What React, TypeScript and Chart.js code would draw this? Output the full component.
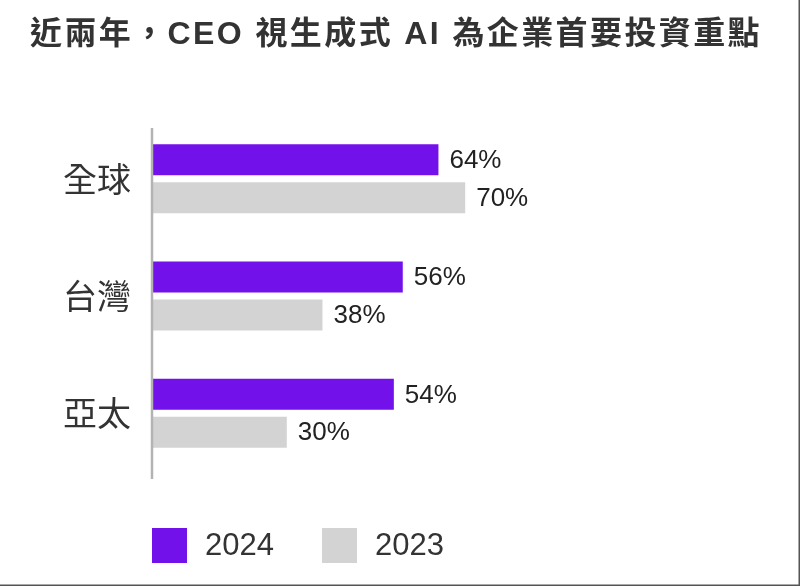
import React, { useEffect, useRef } from "react";
import { Chart, registerables } from "chart.js";

Chart.register(...registerables);

const titleText = "近兩年，CEO 視生成式 AI 為企業首要投資重點";
const categories = ["全球", "台灣", "亞太"];
const seriesLabels = ["2024", "2023"];
const values2024 = [64, 56, 54];
const values2023 = [70, 38, 30];
const seriesColors = ["#7311EB", "#D3D3D3"];
const axisMax = 100;

const LATIN = '"Liberation Sans", Arial, "Noto Sans CJK TC", sans-serif';
const CJK = '"Noto Sans CJK TC", "Noto Sans CJK SC", sans-serif';

const decorPlugin = {
  id: "decor",
  afterDraw(chart: any) {
    const ctx = chart.ctx as CanvasRenderingContext2D;
    const area = chart.chartArea;
    ctx.save();
    // title
    ctx.fillStyle = "#333333";
    ctx.font = `bold 32px ${LATIN}`;
    (ctx as any).letterSpacing = "2.4px";
    ctx.textAlign = "left";
    ctx.textBaseline = "alphabetic";
    ctx.fillText(titleText, 30, 44);
    (ctx as any).letterSpacing = "0px";

    // y axis line
    ctx.strokeStyle = "#b3b3b3";
    ctx.lineWidth = 2.5;
    ctx.beginPath();
    ctx.moveTo(area.left - 1, area.top + 8);
    ctx.lineTo(area.left - 1, area.bottom + 7);
    ctx.stroke();

    // value labels
    ctx.font = `26px ${LATIN}`;
    ctx.fillStyle = "#222222";
    ctx.textBaseline = "middle";
    chart.data.datasets.forEach((ds: any, di: number) => {
      const meta = chart.getDatasetMeta(di);
      meta.data.forEach((el: any, i: number) => {
        ctx.fillText(`${ds.data[i]}%`, el.x + 11, el.y + 1);
      });
    });

    // legend
    const legendX = [152, 322];
    chart.data.datasets.forEach((ds: any, di: number) => {
      const x = legendX[di];
      ctx.fillStyle = ds.backgroundColor;
      ctx.fillRect(x, 528, 35, 35);
      ctx.fillStyle = "#333333";
      ctx.font = `31px ${LATIN}`;
      ctx.textBaseline = "middle";
      ctx.fillText(ds.label, x + 53, 546);
    });

    // frame on right/bottom
    ctx.strokeStyle = "#555555";
    ctx.lineWidth = 1.5;
    ctx.beginPath();
    ctx.moveTo(799.25, 0);
    ctx.lineTo(799.25, 585.25);
    ctx.lineTo(0, 585.25);
    ctx.stroke();
    ctx.restore();
  },
};

export default function App() {
  const ref = useRef<HTMLCanvasElement | null>(null);
  useEffect(() => {
    document.body.style.margin = "0";
    const canvas = ref.current;
    if (!canvas) return;
    const chart = new Chart(canvas, {
      type: "bar",
      data: {
        labels: categories,
        datasets: [
          {
            label: seriesLabels[0],
            data: values2024,
            backgroundColor: seriesColors[0],
            categoryPercentage: 0.647,
            barPercentage: 0.816,
          },
          {
            label: seriesLabels[1],
            data: values2023,
            backgroundColor: seriesColors[1],
            categoryPercentage: 0.647,
            barPercentage: 0.816,
          },
        ],
      },
      options: {
        indexAxis: "y",
        responsive: false,
        animation: false,
        layout: { padding: { top: 120, bottom: 114, left: 0, right: 800 - 153 - 446 } },
        plugins: {
          legend: { display: false },
          title: { display: false },
          tooltip: { enabled: false },
        },
        scales: {
          x: { display: false, min: 0, max: axisMax },
          y: {
            grid: { display: false, drawTicks: false },
            border: { display: false },
            afterFit(scale: any) {
              scale.width = 153;
            },
            ticks: {
              padding: 22,
              color: "#333333",
              font: { family: CJK, size: 34 },
            },
          },
        },
      },
      plugins: [decorPlugin],
    });
    return () => chart.destroy();
  }, []);
  return (
    <div style={{ position: "fixed", left: 0, top: 0, width: 800, height: 586, background: "#fff" }}>
      <canvas ref={ref} width={800} height={586} style={{ display: "block" }} />
    </div>
  );
}
